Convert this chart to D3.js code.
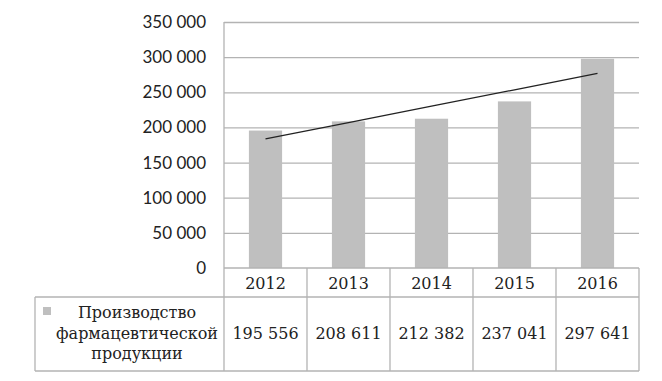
<!DOCTYPE html>
<html>
<head>
<meta charset="utf-8">
<script src="https://cdn.jsdelivr.net/npm/d3@7"></script>
<style>
  body { margin: 0; background: #fff; }
</style>
</head>
<body>
<div id="chart"></div>
<script>
// data
var years = ["2012", "2013", "2014", "2015", "2016"];
var production = [195556, 208611, 212382, 237041, 297641];
var yTicks = [0, 50000, 100000, 150000, 200000, 250000, 300000, 350000];
var seriesName = ["Производство", "фармацевтической", "продукции"];

var W = 662, H = 381;
var plotLeft = 224, plotRight = 639, plotTop = 22, zero = 268;
var rowYear = 297, rowBottom = 371, legendLeft = 35;

var ru = d3.formatLocale({decimal: ",", thousands: " ", grouping: [3], currency: ["", ""]});
var fmt = ru.format(",d");

var svg = d3.select("#chart")
  .append("svg")
    .attr("width", W)
    .attr("height", H);

var x = d3.scaleBand()
  .domain(years)
  .range([plotLeft, plotRight])
  .padding(0);

var y = d3.scaleLinear()
  .domain([0, 350000])
  .range([zero, plotTop]);

var gridColor = "#b3b3b3";
var serif = "'DejaVu Serif', serif";

// gridlines
svg.append("g")
  .attr("transform", "translate(" + plotLeft + ",0)")
  .call(d3.axisLeft(y).tickValues(yTicks.slice(1)).tickSize(-(plotRight - plotLeft)).tickFormat(""))
  .call(g => g.select(".domain").remove())
  .call(g => g.selectAll("line").attr("stroke", gridColor).attr("stroke-width", 1.3));

// y axis labels
svg.append("g")
  .attr("transform", "translate(" + plotLeft + ",0)")
  .call(d3.axisLeft(y).tickValues(yTicks).tickSize(0).tickPadding(18).tickFormat(fmt))
  .call(g => g.select(".domain").remove())
  .call(g => g.selectAll("text")
    .style("font-family", "Lato, sans-serif")
    .style("font-size", "17px")
    .attr("fill", "#222"));

// bars
var barW = x.bandwidth() * 0.4;
svg.selectAll(".bar")
  .data(years)
  .enter()
  .append("rect")
    .attr("class", "bar")
    .attr("x", function(d) { return x(d) + (x.bandwidth() - barW) / 2; })
    .attr("y", function(d, i) { return y(production[i]); })
    .attr("width", barW)
    .attr("height", function(d, i) { return zero - y(production[i]); })
    .attr("fill", "#bfbfbf");

// linear trendline (least squares, like the spreadsheet)
var n = production.length;
var mx = d3.mean(d3.range(n)), my = d3.mean(production);
var slope = d3.sum(production, (v, i) => (i - mx) * (v - my)) / d3.sum(d3.range(n), i => (i - mx) * (i - mx));
var trend = years.map((d, i) => [x(d) + x.bandwidth() / 2, y(my + slope * (i - mx))]);
svg.append("path")
  .attr("d", d3.line()(trend))
  .attr("fill", "none")
  .attr("stroke", "#222")
  .attr("stroke-width", 1.3);

// table lines
var lines = svg.append("g")
  .attr("stroke", gridColor)
  .attr("stroke-width", 1.3);
lines.append("line").attr("x1", plotLeft).attr("x2", plotRight).attr("y1", zero).attr("y2", zero);
lines.append("line").attr("x1", legendLeft).attr("x2", plotRight).attr("y1", rowYear).attr("y2", rowYear);
lines.append("line").attr("x1", legendLeft).attr("x2", plotRight).attr("y1", rowBottom).attr("y2", rowBottom);
lines.append("line").attr("x1", legendLeft).attr("x2", legendLeft).attr("y1", rowYear).attr("y2", rowBottom);
lines.append("line").attr("x1", plotLeft).attr("x2", plotLeft).attr("y1", plotTop).attr("y2", rowBottom);
lines.selectAll(".sep")
  .data(years.slice(1).concat(["end"]))
  .enter()
  .append("line")
    .attr("x1", d => d === "end" ? plotRight : x(d))
    .attr("x2", d => d === "end" ? plotRight : x(d))
    .attr("y1", zero)
    .attr("y2", rowBottom);

// year labels
svg.selectAll(".year")
  .data(years)
  .enter()
  .append("text")
    .attr("x", d => x(d) + x.bandwidth() / 2)
    .attr("y", 289)
    .attr("text-anchor", "middle")
    .style("font-family", serif)
    .style("font-size", "16px")
    .attr("fill", "#222")
    .text(d => d);

// values
svg.selectAll(".val")
  .data(production)
  .enter()
  .append("text")
    .attr("x", (d, i) => x(years[i]) + x.bandwidth() / 2)
    .attr("y", 339)
    .attr("text-anchor", "middle")
    .style("font-family", serif)
    .style("font-size", "16px")
    .attr("fill", "#222")
    .text(d => fmt(d));

// legend key + series name
svg.append("rect")
  .attr("x", 43).attr("y", 307)
  .attr("width", 8).attr("height", 8)
  .attr("fill", "#bfbfbf");

svg.selectAll(".name")
  .data(seriesName)
  .enter()
  .append("text")
    .attr("x", 137)
    .attr("y", (d, i) => 318 + i * 20.5)
    .attr("text-anchor", "middle")
    .style("font-family", serif)
    .style("font-size", "16px")
    .attr("fill", "#222")
    .text(d => d);
</script>
</body>
</html>
